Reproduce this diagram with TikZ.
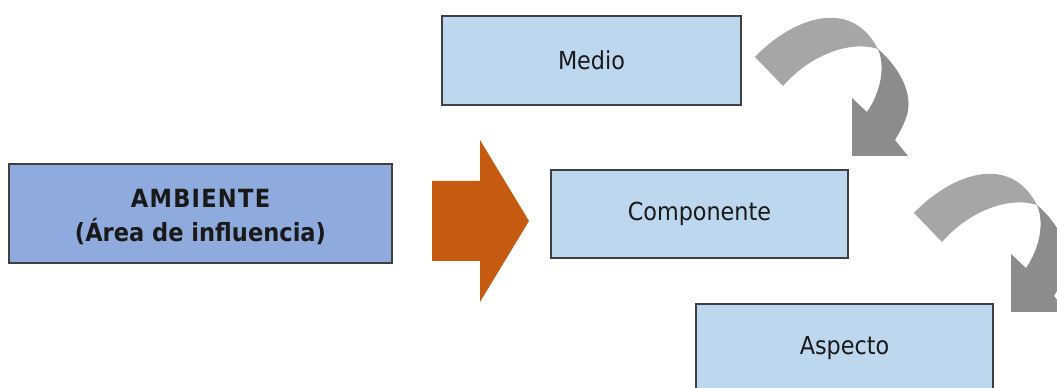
\documentclass[tikz,border=0pt]{standalone}
\usepackage{fontspec}
\setmainfont{DejaVu Sans Condensed}
\begin{document}
\begin{tikzpicture}[x=0.75pt,y=-0.75pt,
  box/.style={draw=boxline,line width=1.4pt,fill=lightblue,inner sep=0pt,font=\fontsize{18.6}{22}\selectfont,text=black!90},
  bigbox/.style={box,fill=midblue},
  bigtext/.style={inner sep=0pt,font=\fontsize{18.8}{25.5}\bfseries\selectfont,align=center,text=black!90},
  lightpart/.style={fill=grayA},
  darkpart/.style={fill=grayB}]
\definecolor{boxline}{HTML}{404040}
\definecolor{lightblue}{HTML}{BDD7EE}
\definecolor{midblue}{HTML}{8FAADC}
\definecolor{orangearrow}{HTML}{C55A11}
\definecolor{grayA}{HTML}{A6A6A6}
\definecolor{grayB}{HTML}{8C8C8C}
\useasboundingbox (0,0) rectangle (1057,388);
\clip (0,0) rectangle (1057,388);
% boxes
\node[bigbox,minimum width=383*0.75pt,minimum height=99*0.75pt] (amb) at (200.5,213.5) {};
\node[bigtext,yshift=-2.5pt] (ambtext) at (amb.center) {{\addfontfeature{LetterSpace=5}AMBIENTE}\\(Área de influencia)};
\node[box,minimum width=299*0.75pt,minimum height=89*0.75pt] (medio) at (591.5,60.5) {Medio};
\node[box,minimum width=297*0.75pt,minimum height=88*0.75pt] (comp) at (699.5,214) {Componente};
\node[box,minimum width=297*0.75pt,minimum height=89*0.75pt] (asp) at (844.5,348.5) {Aspecto};
% orange block arrow
\fill[orangearrow] (432,181) -- (480,181) -- (480,140) -- (529,221) -- (480,302) -- (480,261) -- (432,261) -- cycle;
% curved arrows
\foreach \dx/\dy in {0/0,159/156}{
\begin{scope}[shift={(\dx,\dy)}]
\fill[darkpart] (878,49) .. controls (901,69) and (913,95) .. (907,115)
   .. controls (904,125) and (899,133) .. (895,140) -- (908,156) -- (852,156) -- (852,98) -- (867,112)
   .. controls (882,90) and (885,65) .. (878,49) -- cycle;
\fill[lightpart] (755,57) .. controls (790,20) and (850,-5) .. (878,49)
   .. controls (850,40) and (810,55) .. (783,86) -- cycle;
\end{scope}}
\end{tikzpicture}
\end{document}
